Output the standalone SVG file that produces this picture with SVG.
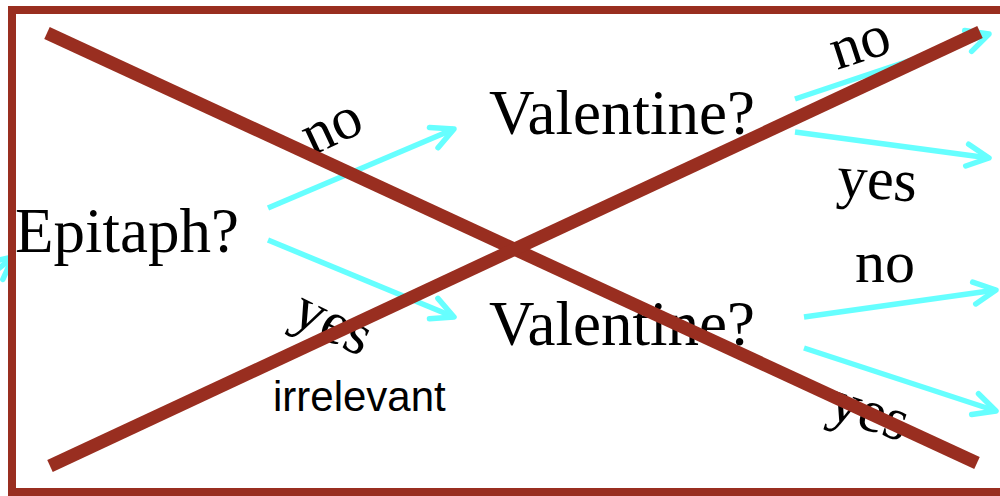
<svg xmlns="http://www.w3.org/2000/svg" width="1000" height="496" viewBox="0 0 1000 496">
<style>
.lbl{font-family:"Liberation Serif","Times New Roman",serif;font-size:60px;fill:#000}
.node{font-family:"Liberation Serif","Times New Roman",serif;font-size:63px;fill:#000}
.sans{font-family:"Liberation Sans",Arial,sans-serif;font-size:42px;fill:#000}
.arr{fill:none;stroke:#66ffff;stroke-width:5.5;marker-end:url(#ah)}
.cross{stroke:#992e20;stroke-width:13;fill:none}
</style>
<defs>
<marker id="ah" markerUnits="userSpaceOnUse" markerWidth="60" markerHeight="60" viewBox="-30 -30 60 60" refX="0" refY="0" orient="auto" overflow="visible">
<path d="M-22,-11 L0,0 L-22,11" fill="none" stroke="#66ffff" stroke-width="5.5" stroke-linecap="round" stroke-linejoin="round"/>
</marker>
</defs>
<rect width="1000" height="496" fill="#fff"/>
<g id="connectors">
<line class="arr" x1="-40" y1="300" x2="13" y2="257"/>
<line class="arr" x1="268" y1="208" x2="454" y2="129"/>
<line class="arr" x1="268" y1="240" x2="454" y2="317"/>
<line class="arr" x1="795" y1="99" x2="989" y2="34"/>
<line class="arr" x1="795" y1="132" x2="989" y2="158"/>
<line class="arr" x1="804" y1="317" x2="996" y2="290"/>
<line class="arr" x1="804" y1="348" x2="996" y2="411"/>
</g>
<g id="labels">
<text class="lbl" transform="translate(312,156) rotate(-25)">no</text>
<text class="lbl" transform="translate(289,322) rotate(26)">yes</text>
<text class="lbl" transform="translate(837,70) rotate(-18)">no</text>
<text class="lbl" transform="translate(836,196) rotate(4)">yes</text>
<text class="lbl" x="855" y="282">no</text>
<text class="lbl" transform="translate(826,417) rotate(18)">yes</text>
<text class="sans" x="273" y="411">irrelevant</text>
</g>
<g id="node-epitaph"><text class="node" x="15" y="252" font-size="65">Epitaph?</text></g>
<g id="node-valentine-top"><text class="node" x="489" y="134">Valentine?</text></g>
<g id="node-valentine-bottom"><text class="node" x="489" y="345">Valentine?</text></g>
<g id="frame">
<rect x="12" y="10" width="1000" height="482" fill="none" stroke="#992e20" stroke-width="8"/>
<line class="cross" x1="47" y1="33" x2="977" y2="463"/>
<line class="cross" x1="50" y1="466" x2="980" y2="32"/>
</g>
</svg>
